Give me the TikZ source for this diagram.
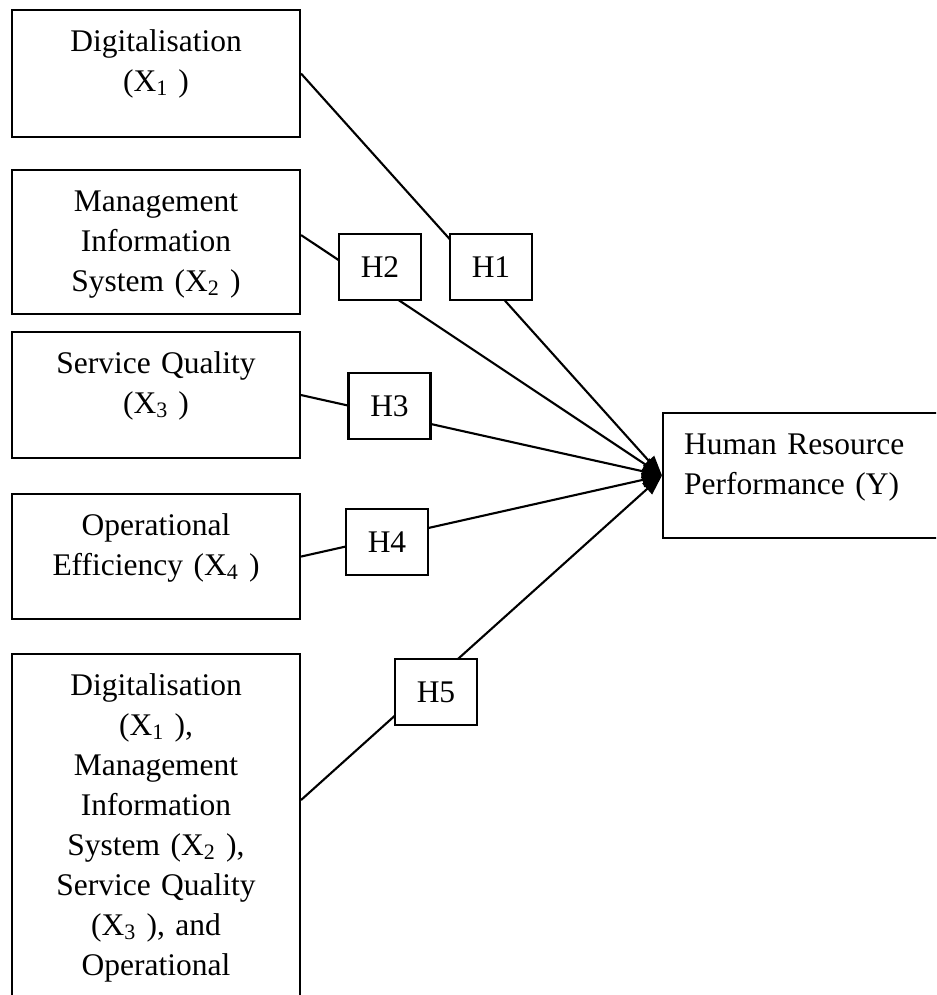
\documentclass[tikz,border=0pt]{standalone}
\usepackage{fontspec}
\setmainfont{Liberation Serif}
\usetikzlibrary{arrows.meta,positioning}
\newcommand{\vfont}{\fontsize{22.4pt}{28.45pt}\selectfont}
\tikzset{
  % variable boxes: text hung from the top edge, depth sets the box height
  var/.style  = {rectangle, draw=black, line width=1.5pt, fill=white, anchor=north,
                 text width=7.2cm, align=center, inner sep=0pt, text height=1.025cm,
                 font=\vfont},
  dep/.style  = {rectangle, draw=black, line width=1.5pt, fill=white, anchor=north west,
                 text width=5.9cm, align=left, inner xsep=0.525cm, inner ysep=0pt,
                 text height=1.025cm, font=\vfont},
  hyp/.style  = {rectangle, draw=black, line width=1.5pt, fill=white, inner sep=0pt,
                 minimum width=2.05cm, minimum height=1.65cm, font=\vfont},
  lnk/.style  = {-{Triangle[length=5mm,width=3.6mm]}, line width=1.5pt},
}
\begin{document}
\begin{tikzpicture}
\useasboundingbox (0,0) rectangle (23.4,-24.875);
\clip (0,0) rectangle (23.4,-24.875);
% independent variables
\node[var, text depth=2.15cm]  (dig) at (3.9,-0.225) {Digitalisation\\(X\textsubscript{1} )};
\node[var, text depth=2.575cm] (mis) at (3.9,-4.225) {Management\\Information\\System (X\textsubscript{2} )};
\node[var, text depth=2.125cm] (sq)  at (3.9,-8.275) {Service Quality\\(X\textsubscript{3} )};
\node[var, text depth=2.1cm]   (oe)  at (3.9,-12.325) {Operational\\Efficiency (X\textsubscript{4} )};
\node[var, text depth=7.975cm] (all) at (3.9,-16.325)
  {Digitalisation\\(X\textsubscript{1} ),\\Management\\Information\\System (X\textsubscript{2} ),\\
   Service Quality\\(X\textsubscript{3} ), and\\Operational};
% dependent variable
\node[dep, text depth=2.1cm] (hrp) at (16.55,-10.3) {Human Resource\\Performance (Y)};
% paths
\draw[lnk] (dig.east) -- (hrp.west);
\draw[lnk] ([yshift=1.75mm]mis.east) -- (hrp.west);
\draw[lnk] (sq.east) -- (hrp.west);
\draw[lnk] (oe.east) -- (hrp.west);
\draw[lnk] ([yshift=-3.675cm]all.north east) -- (hrp.west);
% hypothesis labels sit on the paths
\node[hyp] (h1) at (12.275,-6.675) {H1};
\node[hyp] (h2) at (9.5,-6.675)    {H2};
\node[hyp] (h3) at (9.7375,-10.15) {H3};
\node[hyp] (h4) at (9.675,-13.55)  {H4};
\node[hyp] (h5) at (10.9,-17.3)    {H5};
\end{tikzpicture}
\end{document}
